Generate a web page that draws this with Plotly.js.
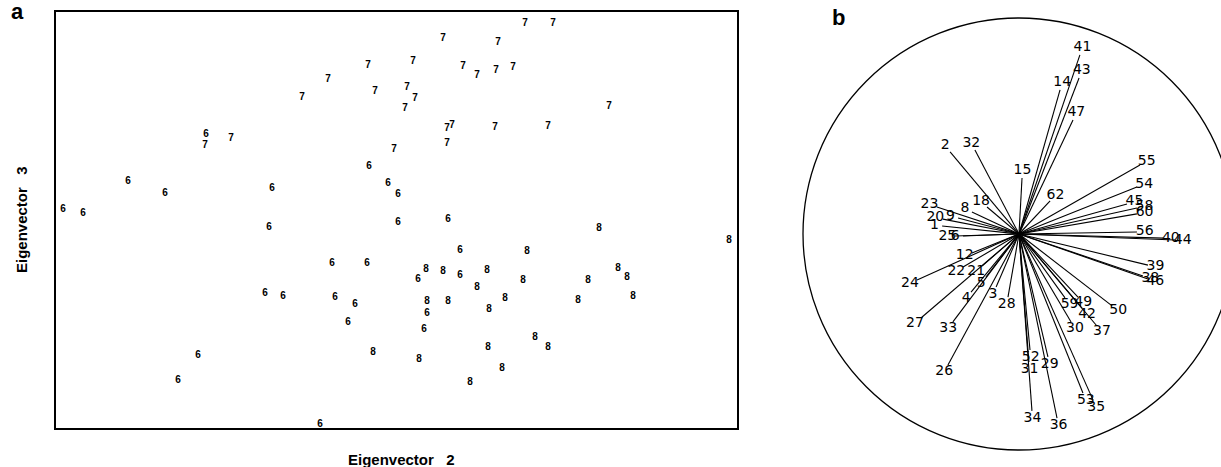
<!DOCTYPE html>
<html>
<head>
<meta charset="utf-8">
<script src="https://cdn.plot.ly/plotly-3.0.1.min.js"></script>
<style>
  html, body { margin: 0; padding: 0; background: #fff; }
  #chart { width: 1221px; height: 467px; }
</style>
</head>
<body>
<div id="chart"></div>
<script>
// ---- Panel a: sample scores on eigenvectors 2 and 3, labelled by group ----
const group6X = [-1.90, -2.68, -2.31, -3.33, -3.13, -1.24, -1.27, -0.27, -0.08, 0.02, 0.02, 0.52,
                 -0.64, -0.29, -1.31, -1.13, -0.61, -0.41, -0.48, -1.98, -2.18, -0.76, 0.22, 0.64,
                 0.64, 0.31, 0.28];
const group6Y = [0.86, 0.39, 0.27, 0.11, 0.07, 0.32, -0.07, 0.54, 0.37, 0.26, -0.02, 0.01,
                 -0.43, -0.43, -0.73, -0.76, -0.77, -0.84, -1.02, -1.35, -1.60, -2.04, -0.59, -0.30,
                 -0.55, -0.93, -1.09];

const group7X = [1.29, 1.57, 0.47, 1.02, 0.17, 0.67, 0.81, 1.00, 1.17, 0.11, 0.19, 0.09, 2.13,
                 0.51, 0.56, 0.99, 1.52, 0.51, -0.28, -0.68, -0.21, -0.94, -1.91, -1.65, -0.02];
const group7Y = [1.97, 1.97, 1.82, 1.78, 1.59, 1.54, 1.45, 1.50, 1.53, 1.33, 1.22, 1.12, 1.14,
                 0.92, 0.95, 0.93, 0.94, 0.77, 1.55, 1.41, 1.29, 1.23, 0.75, 0.82, 0.71];

const group8X = [2.03, 3.33, 1.31, 0.30, 0.47, 0.91, 0.81, 1.27, 1.92, 2.22, 2.31, 2.37, 1.82,
                 0.31, 0.52, 1.09, 0.93, 1.39, 1.52, 0.92, 0.23, 1.06, 0.74, -0.23];
const group8Y = [-0.08, -0.20, -0.31, -0.49, -0.51, -0.50, -0.67, -0.60, -0.60, -0.48, -0.57, -0.76, -0.80,
                 -0.81, -0.81, -0.78, -0.89, -1.17, -1.27, -1.27, -1.39, -1.48, -1.62, -1.32];

const groupNames = ['6', '7', '8'];

// ---- Panel b: variable loadings inside the unit correlation circle ----
const varLabels = ['41', '43', '14', '47', '2', '32', '15', '62', '55', '54', '45', '58', '60',
                   '56', '40', '44', '39', '38', '46', '50', '37', '42', '30', '59', '49', '35', '53',
                   '36', '34', '29', '52', '31', '26', '33', '27', '24', '4', '3', '28', '5', '12',
                   '22', '21', '23', '20', '1', '9', '8', '18', '25', '6'];
const varX = [0.282, 0.278, 0.190, 0.250, -0.319, -0.204, 0.014, 0.144, 0.560, 0.546, 0.500, 0.546, 0.546,
              0.546, 0.667, 0.722, 0.597, 0.574, 0.597, 0.431, 0.361, 0.292, 0.241, 0.213, 0.273, 0.343, 0.296,
              0.176, 0.060, 0.134, 0.051, 0.046, -0.329, -0.306, -0.454, -0.472, -0.222, -0.106, -0.051, -0.153, -0.218,
              -0.259, -0.171, -0.380, -0.352, -0.356, -0.282, -0.218, -0.148, -0.296, -0.259];
const varY = [0.829, 0.722, 0.667, 0.528, 0.380, 0.389, 0.259, 0.153, 0.319, 0.218, 0.139, 0.120, 0.093,
              0.009, -0.019, -0.028, -0.144, -0.194, -0.208, -0.333, -0.426, -0.343, -0.407, -0.296, -0.292, -0.769, -0.736,
              -0.852, -0.819, -0.569, -0.537, -0.593, -0.606, -0.407, -0.389, -0.213, -0.269, -0.245, -0.292, -0.199, -0.088,
              -0.153, -0.148, 0.125, 0.069, 0.037, 0.074, 0.102, 0.125, -0.009, -0.009];

// Segments from the origin to each loading, separated by gaps
const segX = [], segY = [];
varX.forEach((x, i) => { segX.push(0, x, null); segY.push(0, varY[i], null); });

// Labels sit just beyond the end of each arrow
const labelGap = 0.036;
const labX = varX.map((x, i) => { const r = Math.hypot(x, varY[i]); return x + labelGap * x / r; });
const labY = varY.map((y, i) => { const r = Math.hypot(varX[i], y); return y + labelGap * y / r; });

const digitFont = { family: 'Liberation Sans, Arial, sans-serif', size: 10, color: '#000', weight: 'bold' };

function groupTrace(xs, ys, name) {
  return {
    type: 'scatter', mode: 'text', x: xs, y: ys,
    text: xs.map(() => name), textposition: 'middle center',
    textfont: digitFont, cliponaxis: false, hoverinfo: 'x+y+text',
    xaxis: 'x', yaxis: 'y', showlegend: false
  };
}

const traces = [
  groupTrace(group6X, group6Y, groupNames[0]),
  groupTrace(group7X, group7Y, groupNames[1]),
  groupTrace(group8X, group8Y, groupNames[2]),
  {
    type: 'scatter', mode: 'lines', x: segX, y: segY,
    line: { color: '#000', width: 1.1 }, xaxis: 'x2', yaxis: 'y2',
    hoverinfo: 'skip', showlegend: false
  },
  {
    type: 'scatter', mode: 'text', x: labX, y: labY, text: varLabels,
    textposition: 'middle center',
    textfont: { family: 'DejaVu Sans, Liberation Sans, sans-serif', size: 14, color: '#000' },
    xaxis: 'x2', yaxis: 'y2', cliponaxis: false, showlegend: false
  }
];

const W = 1221, H = 467;
const layout = {
  width: W, height: H,
  margin: { l: 0, r: 0, t: 0, b: 0 },
  paper_bgcolor: '#fff', plot_bgcolor: 'rgba(0,0,0,0)',
  showlegend: false,
  xaxis: {
    domain: [56 / W, 737 / W], range: [-3.40, 3.41],
    showline: true, mirror: true, linecolor: '#000', linewidth: 1.6,
    showgrid: false, zeroline: false, showticklabels: false, ticks: ''
  },
  yaxis: {
    domain: [1 - 428 / H, 1 - 12 / H], range: [-2.08, 2.08],
    showline: true, mirror: true, linecolor: '#000', linewidth: 1.6,
    showgrid: false, zeroline: false, showticklabels: false, ticks: ''
  },
  xaxis2: {
    domain: [790 / W, 1], range: [-1.0602, 0.9352],
    visible: false, showgrid: false, zeroline: false, anchor: 'y2'
  },
  yaxis2: {
    domain: [0, 1], range: [-1.0787, 1.0833],
    visible: false, showgrid: false, zeroline: false, anchor: 'x2'
  },
  shapes: [
    {
      type: 'circle', xref: 'x2', yref: 'y2', x0: -1, y0: -1, x1: 1, y1: 1,
      line: { color: '#000', width: 1.3 }
    }
  ],
  annotations: [
    {
      text: 'Eigenvector&nbsp;&nbsp;&nbsp;2', xref: 'paper', yref: 'paper',
      x: 401 / W, y: 1 - 459 / H, xanchor: 'center', yanchor: 'middle', showarrow: false,
      font: { family: 'Liberation Sans, Arial, sans-serif', size: 15, color: '#000', weight: 'bold' }
    },
    {
      text: 'Eigenvector&nbsp;&nbsp;&nbsp;3', xref: 'paper', yref: 'paper', textangle: -90,
      x: 21 / W, y: 1 - 220 / H, xanchor: 'center', yanchor: 'middle', showarrow: false,
      font: { family: 'Liberation Sans, Arial, sans-serif', size: 15, color: '#000', weight: 'bold' }
    },
    {
      text: '<b>a</b>', xref: 'paper', yref: 'paper',
      x: 17 / W, y: 1 - 12 / H, xanchor: 'center', yanchor: 'middle', showarrow: false,
      font: { family: 'Liberation Sans, Arial, sans-serif', size: 22, color: '#000' }
    },
    {
      text: '<b>b</b>', xref: 'paper', yref: 'paper',
      x: 838 / W, y: 1 - 17 / H, xanchor: 'center', yanchor: 'middle', showarrow: false,
      font: { family: 'Liberation Sans, Arial, sans-serif', size: 22, color: '#000' }
    }
  ]
};

Plotly.newPlot('chart', traces, layout, { displayModeBar: false, staticPlot: true });
</script>
</body>
</html>
